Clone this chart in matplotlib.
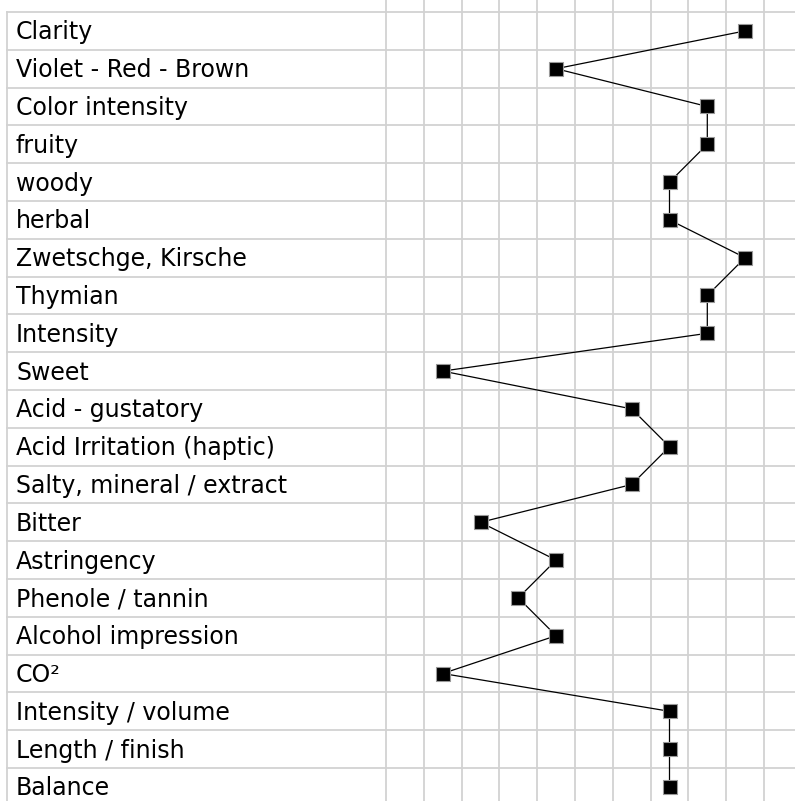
import matplotlib
matplotlib.use("Agg")
import matplotlib.pyplot as plt

categories = [
    "Clarity", "Violet - Red - Brown", "Color intensity", "fruity", "woody",
    "herbal", "Zwetschge, Kirsche", "Thymian", "Intensity", "Sweet",
    "Acid - gustatory", "Acid Irritation (haptic)", "Salty, mineral / extract",
    "Bitter", "Astringency", "Phenole / tannin", "Alcohol impression", "CO²",
    "Intensity / volume", "Length / finish", "Balance",
]
scores = [9, 4, 8, 8, 7, 7, 9, 8, 8, 1, 6, 7, 6, 2, 4, 3, 4, 1, 7, 7, 7]
n_cols = 11

W, H, DPI = 795, 801, 100
cell = 37.8          # px per row / column
x0_px = 386          # left edge of grid area
y0_px = 12           # top edge of table
left_px = 7          # left border of label column

fig = plt.figure(figsize=(W / DPI, H / DPI), dpi=DPI)
ax = fig.add_axes([0, 0, 1, 1])
ax.set_xlim(-x0_px / cell, (W - x0_px) / cell)
ax.set_ylim((H - y0_px) / cell, -y0_px / cell)
ax.axis("off")

grid_c = "#d2d2d2"
xl = (left_px - x0_px) / cell
ytop = -y0_px / cell
ybot = (H - y0_px) / cell
nrows = len(categories)

for i in range(nrows + 1):
    ax.plot([xl, 20], [i, i], color=grid_c, lw=1.3, zorder=1)
ax.plot([xl, xl], [0, ybot], color=grid_c, lw=1.3, zorder=1)
for c in range(n_cols + 1):
    ax.plot([c, c], [ytop, ybot], color=grid_c, lw=1.3, zorder=1)

for i, lab in enumerate(categories):
    ax.text((16 - x0_px) / cell, i + 0.5 + 8.5 / cell, lab, fontsize=17,
            family="DejaVu Sans", va="baseline", ha="left", color="black")

xs = [s + 0.5 for s in scores]
ys = [i + 0.5 for i in range(nrows)]
ax.plot(xs, ys, color="black", lw=0.9, zorder=2)
ax.plot(xs, ys, ls="none", marker="s", ms=10, mfc="black", mec="#999999",
        mew=0.8, zorder=3)

fig.savefig("out.png", dpi=DPI)
